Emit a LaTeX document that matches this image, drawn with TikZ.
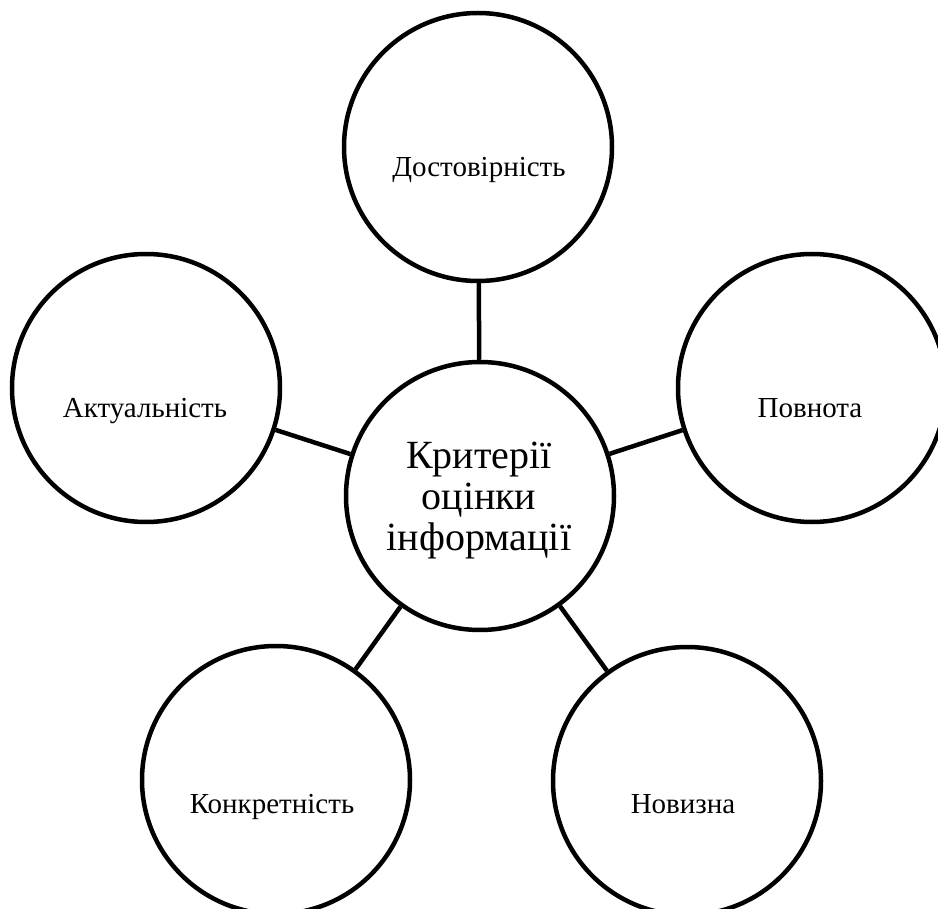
\documentclass[tikz,border=0pt]{standalone}
\usepackage{fontspec}
\setmainfont{Liberation Serif}
\newfontfamily\tnr{Liberation Serif}
\begin{document}
\begin{tikzpicture}[x=1pt,y=-1pt,
  crit/.style={circle,draw,line width=4.5pt,minimum size=268pt,inner sep=0pt},
  lbl/.style={anchor=base,inner sep=0pt,font=\tnr\fontsize{29}{32}\selectfont},
  link/.style={line width=4.5pt}]
\useasboundingbox (0,0) rectangle (938,909);
\clip (0,0) rectangle (938,909);
\fill[white] (0,0) rectangle (938,909);
\node[crit] (c) at (480,496) {};
\node[crit] (t) at (478,147) {};
\node[crit] (l) at (146,388) {};
\node[crit] (r) at (812,388) {};
\node[crit] (bl) at (276,780) {};
\node[crit] (br) at (687,781) {};
\draw[link] (c) -- (t);
\draw[link] (c) -- (l);
\draw[link] (c) -- (r);
\draw[link] (c) -- (bl);
\draw[link] (c) -- (br);
\node[lbl] (tt) at (479,177) {Достовірність};
\node[lbl] (lt) at (145,418) {Актуальність};
\node[lbl] (rt) at (810,418) {Повнота};
\node[lbl] (blt) at (272,813) {Конкретність};
\node[lbl] (brt) at (683,813) {Новизна};
\node[anchor=base,inner sep=0pt,align=center,font=\tnr\fontsize{40}{41}\selectfont] (ct) at (479,550) {Критерії\\оцінки\\інформації};
\end{tikzpicture}
\end{document}
